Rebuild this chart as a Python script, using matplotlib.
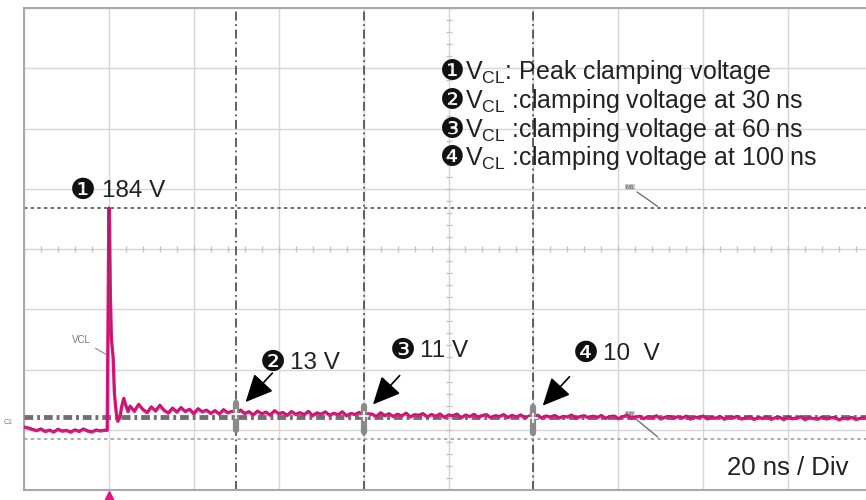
import numpy as np
import matplotlib
matplotlib.use('Agg')
import matplotlib.pyplot as plt
from matplotlib import transforms

plt.rcParams['font.family'] = ['Liberation Sans', 'DejaVu Sans']

# Trace before the surge (1 ns steps, -20 .. -1 ns)
pre_t = np.arange(-20, 0)
pre_v = [2.1, 1.4, 0.2, -0.8, 0.6, -1.5, -0.4, -1.9, 0.3, -1.2,
         -0.6, -2.0, -0.2, -1.4, 0.5, -1.1, -1.8, -0.3, -1.0, -0.5]

# Surge spike and first ringing
pulse_t = [-0.4, 0.0, 0.15, 0.35, 0.6, 1.0, 1.3, 1.7, 2.1, 2.6, 3.0, 3.5, 4.0, 4.5]
pulse_v = [-0.5, 184, 170, 110, 75, 60, 30, 15, 7, 10, 19, 26, 20, 15]

# Clamped tail (1 ns steps, 5 .. 178 ns)
post_t = np.arange(5, 179)
post_v = [19.5, 15.2, 21.0, 16.8, 14.1, 18.9, 15.5, 20.2, 16.0, 13.8,
          17.9, 14.6, 18.3, 15.1, 16.9, 13.2, 17.4, 14.8, 16.2, 13.5,
          15.8, 12.9, 16.6, 14.0, 15.1, 12.6, 16.3, 13.4, 14.9, 12.2,
          15.4, 13.1, 14.6, 12.0, 15.7, 13.3, 14.2, 11.8, 15.0, 12.7,
          14.1, 12.4, 15.2, 11.6, 13.9, 12.8, 14.7, 11.9, 13.6, 12.3,
          14.8, 11.5, 13.4, 12.6, 14.3, 11.2, 13.1, 12.9, 10.8, 14.0,
          11.7, 13.2, 10.9, 12.8, 11.4, 13.7, 10.6, 12.4, 11.9, 13.3,
          10.5, 12.6, 11.1, 13.0, 10.2, 12.2, 11.5, 12.9, 9.9, 12.1,
          10.8, 12.7, 10.3, 11.8, 12.4, 9.7, 11.6, 10.9, 12.5, 10.1,
          11.9, 10.4, 12.2, 9.8, 11.3, 10.6, 12.0, 9.5, 11.4, 10.2,
          11.8, 9.6, 11.0, 10.5, 12.1, 9.3, 10.9, 11.5, 9.8, 11.2,
          10.0, 11.7, 9.4, 10.8, 11.3, 9.1, 10.6, 11.9, 9.7, 10.4,
          11.1, 9.2, 10.7, 9.9, 11.5, 8.9, 10.3, 11.0, 9.4, 10.8,
          9.6, 11.2, 8.8, 10.5, 9.9, 11.3, 9.0, 10.1, 9.5, 10.9,
          8.7, 10.4, 9.8, 11.0, 8.9, 9.6, 10.7, 8.5, 10.2, 9.3,
          10.6, 8.6, 9.9, 10.3, 8.4, 10.5, 9.1, 9.7, 10.8, 8.3,
          10.0, 9.2, 8.7, 10.4, 8.9, 9.8, 10.1, 8.2, 9.6, 9.0,
          10.2, 8.5, 9.4, 9.7]

peak_t = 0
peak_v = 184
cursor_t = [30, 60, 100]
cursor_v = [13, 11, 10]
cursor_text = ['13 V', '11 V', '10  V']
ref_level = 10.5
low_level = -7.5

digits = ['\u2776', '\u2777', '\u2778', '\u2779']
legend_lines = [r'$\mathregular{V_{CL}}$: Peak clamping voltage',
                r'$\mathregular{V_{CL}}$ :clamping voltage at 30 ns',
                r'$\mathregular{V_{CL}}$ :clamping voltage at 60 ns',
                r'$\mathregular{V_{CL}}$ :clamping voltage at 100 ns']

t = np.concatenate([pre_t, pulse_t, post_t])
v = np.concatenate([pre_v, pulse_v, post_v])

W, H = 866, 500
fig = plt.figure(figsize=(W / 100, H / 100), dpi=100)
ax = fig.add_axes([24 / W, 10 / H, 849 / W, 482 / H])
ax.set_xlim(-20, 180)
ax.set_ylim(-50, 350)
ax.set_xticks(np.arange(-20, 181, 20))
ax.set_yticks(np.arange(-50, 351, 50))
ax.tick_params(length=0, labelbottom=False, labelleft=False)
ax.grid(True, color='#d6d6d6', lw=1)
for s in ax.spines.values():
    s.set_color('#a8a8a8')
    s.set_linewidth(1.5)

# graticule minor ticks on centre lines
mt = np.arange(-20, 181, 4)
ax.plot(mt, np.full(len(mt), 150.0), ls='none', marker='|', ms=5, color='#c4c4c4')
mv = np.arange(-50, 351, 10)
ax.plot(np.full(len(mv), 80.0), mv, ls='none', marker='_', ms=5, color='#c4c4c4')

# cursors
ax.axhline(peak_v, color='#555555', ls=(0, (2, 2)), lw=1.2)
ax.axhline(low_level, color='#a0a0a0', ls=(0, (2, 2)), lw=1.2)
ax.axhline(ref_level, color='#707070', ls=(0, (1.8, 0.8, 0.6, 0.8)), lw=3.5, zorder=3)
for ct in cursor_t:
    ax.axvline(ct, color='#555555', ls=(0, (5, 2, 1, 2)), lw=1.3)

# waveform
ax.plot(t, v, color='#e0187f', lw=2.4, zorder=5)
dark = transforms.offset_copy(ax.transData, fig=fig, y=1, units='dots')
ax.plot(t, v, color='#6e1f50', lw=0.7, alpha=0.5, zorder=5, transform=dark)

# cursor markers, arrows and labels
label_offsets = [(5.6, 37.4), (6.2, 49.4), (9.3, 47.9)]
for i, (ct, cv) in enumerate(zip(cursor_t, cursor_v)):
    ax.plot([ct, ct], [cv - 13, cv + 9], color='#8a8a8a', lw=4.5,
            solid_capstyle='round', zorder=6)
    ax.plot(ct, cv, marker='+', color='white', ms=7, mew=1.2, zorder=7)
    tip = (ct + 2.2, cv + 10)
    ax.annotate('', xy=tip, xytext=(tip[0] + 6.3, tip[1] + 24),
                arrowprops=dict(arrowstyle='-|>,head_length=0.85,head_width=0.4',
                                color='black', lw=1.2, shrinkA=0, shrinkB=0,
                                mutation_scale=20), zorder=8)
    dx, dy = label_offsets[i]
    ax.text(ct + dx, cv + dy - 1.5, digits[i + 1], family=['DejaVu Sans'],
            fontsize=21, va='baseline', color='#111111')
    ax.text(ct + dx + 7.1, cv + dy, cursor_text[i], fontsize=17.5,
            va='baseline', color='#222222')

ax.text(peak_t - 9.2, peak_v + 7.7, digits[0], family=['DejaVu Sans'],
        fontsize=21, va='baseline', color='#111111')
ax.text(peak_t - 1.6, peak_v + 9.2, f'{peak_v} V', fontsize=17.5,
        va='baseline', color='#222222')

# small scope markers
ax.annotate('VCL', xy=(0.6, 60), xytext=(-8.8, 72), fontsize=7, color='#777777',
            arrowprops=dict(arrowstyle='-', color='#888888', lw=0.8))
for yy, xy_v in [(200, peak_v), (11.5, low_level)]:
    ax.annotate('M1', xy=(129.8, xy_v), xytext=(121.8, yy), fontsize=4.5,
                color='#555555',
                bbox=dict(boxstyle='square,pad=0.1', fc='#c8c8c8', ec='none'),
                arrowprops=dict(arrowstyle='-', color='#666666', lw=0.9))

trig = transforms.offset_copy(ax.transData, fig=fig, y=-6, units='dots')
ax.plot(0, -50, marker='^', ms=7, color='#e0187f', clip_on=False, transform=trig)
fig.text(4 / W, 1 - 422 / H, 'C1', fontsize=5, color='#c05590', va='center')

# legend block
base_y = [79, 108, 137, 165]
for d, line, by in zip(digits, legend_lines, base_y):
    fig.text(440 / W, 1 - (by + 1) / H, d, family=['DejaVu Sans'], fontsize=20,
             va='baseline', color='#111111')
    fig.text(465 / W, 1 - by / H, line, fontsize=18, va='baseline',
             color='#222222')

fig.text(727 / W, 1 - 475 / H, '20 ns / Div', fontsize=18.5, va='baseline',
         color='#222222')

fig.savefig('out.png', dpi=100, facecolor='white')
